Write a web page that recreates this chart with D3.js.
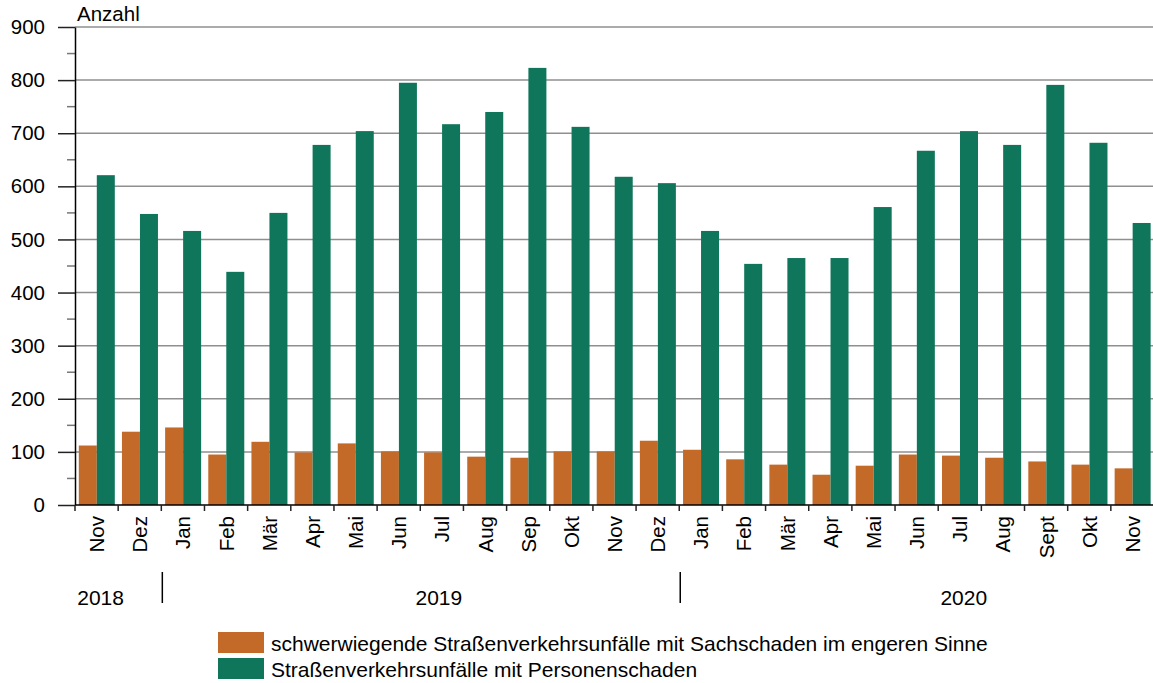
<!DOCTYPE html>
<html>
<head>
<meta charset="utf-8">
<script src="https://cdn.jsdelivr.net/npm/d3@7"></script>
<style>
  body { margin: 0; background: #fff; }
  text { font-family: Arial, "Liberation Sans", sans-serif; fill: #000; }
</style>
</head>
<body>
<svg id="chart" width="1153" height="683"></svg>
<script>
// data
var months = ["Nov","Dez","Jan","Feb","Mär","Apr","Mai","Jun","Jul","Aug","Sep","Okt",
              "Nov","Dez","Jan","Feb","Mär","Apr","Mai","Jun","Jul","Aug","Sept","Okt","Nov"];
var sachschaden = [112,138,146,95,119,99,116,101,99,91,89,101,101,121,104,86,76,57,74,95,93,89,82,76,69];
var personenschaden = [621,548,516,439,550,678,704,795,717,740,823,712,618,606,516,454,465,465,561,667,704,678,791,682,531];
var seriesNames = ["schwerwiegende Straßenverkehrsunfälle mit Sachschaden im engeren Sinne",
                   "Straßenverkehrsunfälle mit Personenschaden"];
var years = ["2018", "2019", "2020"];
var yearAnchor = [0, 8, 20];     // month index under which the year label sits
var yearBreaks = [2, 14];        // month index where a new year starts
var yTicks = [0,100,200,300,400,500,600,700,800,900];
var yMinor = [50,150,250,350,450,550,650,750,850];

var colors = ["#c46a29", "#10765b"];

var svg = d3.select("#chart");
var plotLeft = 75, plotRight = 1154, plotTop = 27, plotBottom = 505;

var x = d3.scaleBand()
    .domain(d3.range(months.length))
    .range([plotLeft, plotRight])
    .padding(0);
var x1 = d3.scaleBand()
    .domain([0, 1])
    .range([3.8, 39.8]);
var y = d3.scaleLinear()
    .domain([0, 900])
    .range([plotBottom, plotTop]);

// gridlines
svg.append("g")
    .selectAll("line")
    .data(yTicks.slice(1))
    .enter()
    .append("line")
    .attr("x1", plotLeft)
    .attr("x2", 1153)
    .attr("y1", function(d) { return y(d); })
    .attr("y2", function(d) { return y(d); })
    .attr("stroke", "#8f8f8f")
    .attr("stroke-width", 1.5);

// minor ticks
svg.append("g")
    .selectAll("line")
    .data(yMinor)
    .enter()
    .append("line")
    .attr("x1", plotLeft - 8)
    .attr("x2", plotLeft)
    .attr("y1", function(d) { return y(d); })
    .attr("y2", function(d) { return y(d); })
    .attr("stroke", "#777")
    .attr("stroke-width", 1.5);

// bars
var groups = svg.append("g")
    .selectAll("g")
    .data(months.map(function(m, i) { return [sachschaden[i], personenschaden[i]]; }))
    .enter()
    .append("g")
    .attr("transform", function(d, i) { return "translate(" + x(i) + ",0)"; });

groups.selectAll("rect")
    .data(function(d) { return d; })
    .enter()
    .append("rect")
    .attr("x", function(d, j) { return x1(j); })
    .attr("width", x1.bandwidth())
    .attr("y", function(d) { return y(d); })
    .attr("height", function(d) { return plotBottom - y(d); })
    .attr("fill", function(d, j) { return colors[j]; });

// y axis
var yAxis = svg.append("g")
    .attr("transform", "translate(" + plotLeft + ",0)")
    .call(d3.axisLeft(y).tickValues(yTicks).tickSize(17).tickPadding(13).tickSizeOuter(0));
yAxis.select(".domain").attr("stroke", "#000").attr("stroke-width", 1.5);
yAxis.selectAll(".tick line").attr("stroke", "#222").attr("stroke-width", 1.5);
yAxis.selectAll("text")
    .attr("font-size", 20.5)
    .attr("font-family", "Arial, 'Liberation Sans', sans-serif")
    .attr("fill", "#000");

// x axis line and ticks at band edges
svg.append("line")
    .attr("x1", plotLeft)
    .attr("x2", 1153)
    .attr("y1", plotBottom)
    .attr("y2", plotBottom)
    .attr("stroke", "#000")
    .attr("stroke-width", 1.5);

svg.append("g")
    .selectAll("line")
    .data(d3.range(months.length))
    .enter()
    .append("line")
    .attr("x1", function(d) { return x(d); })
    .attr("x2", function(d) { return x(d); })
    .attr("y1", plotBottom)
    .attr("y2", plotBottom + 6)
    .attr("stroke", "#222")
    .attr("stroke-width", 1.5);

// month labels
svg.append("g")
    .selectAll("text")
    .data(months)
    .enter()
    .append("text")
    .attr("transform", function(d, i) {
        return "translate(" + (x(i) + x.bandwidth() / 2) + "," + (plotBottom + 11) + ") rotate(-90)";
    })
    .attr("text-anchor", "end")
    .attr("dominant-baseline", "central")
    .attr("font-size", 20.5)
    .text(function(d) { return d; });

// year separators
svg.append("g")
    .selectAll("line")
    .data(yearBreaks)
    .enter()
    .append("line")
    .attr("x1", function(d) { return x(d) + 1; })
    .attr("x2", function(d) { return x(d) + 1; })
    .attr("y1", 572)
    .attr("y2", 603)
    .attr("stroke", "#000")
    .attr("stroke-width", 1.5);

// year labels
svg.append("g")
    .selectAll("text")
    .data(years)
    .enter()
    .append("text")
    .attr("x", function(d, i) { return x(yearAnchor[i]) + x.bandwidth() / 2 + (i == 0 ? 4 : i == 1 ? -3 : 4); })
    .attr("y", 605)
    .attr("text-anchor", "middle")
    .attr("font-size", 21)
    .text(function(d) { return d; });

// unit label
svg.append("text")
    .attr("x", 77)
    .attr("y", 21)
    .attr("font-size", 20.5)
    .text("Anzahl");

// legend
var legend = svg.append("g")
    .attr("transform", "translate(218,632)");

var legendItem = legend.selectAll("g")
    .data(seriesNames)
    .enter()
    .append("g")
    .attr("transform", function(d, i) { return "translate(0," + i * 26 + ")"; });

legendItem.append("rect")
    .attr("width", 46)
    .attr("height", 21)
    .attr("fill", function(d, i) { return colors[i]; });

legendItem.append("text")
    .attr("x", 53)
    .attr("y", 11)
    .attr("dominant-baseline", "central")
    .attr("font-size", 21)
    .text(function(d) { return d; });
</script>
</body>
</html>
